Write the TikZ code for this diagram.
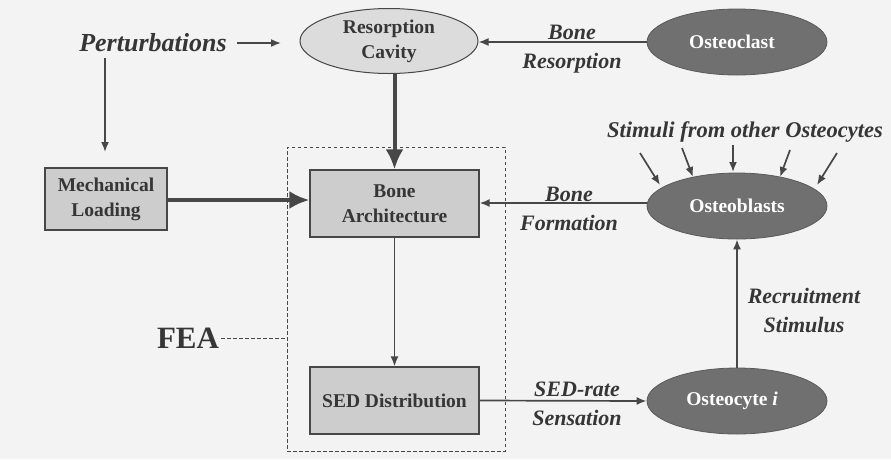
\documentclass[tikz,border=0pt]{standalone}
\usepackage{fontspec}
\setmainfont{Liberation Serif}
\usetikzlibrary{arrows.meta,shapes.geometric}
\definecolor{bg}{HTML}{F3F3F3}
\definecolor{boxfill}{HTML}{CDCDCD}
\definecolor{darkell}{HTML}{707070}
\definecolor{ellline}{HTML}{5A5A5A}
\definecolor{lightell}{HTML}{DCDCDC}
\definecolor{ink}{HTML}{363636}
\definecolor{linec}{HTML}{474747}
\begin{document}
\begin{tikzpicture}[x=1pt,y=-1pt,
  nodefont/.style={font=\fontsize{19.5}{25}\selectfont\bfseries},
  lblfont/.style={font=\fontsize{22}{29}\selectfont\bfseries\itshape},
  box/.style={rectangle, draw=linec, line width=1.2pt, fill=boxfill, inner sep=0pt, text=ink, align=center, nodefont},
  dell/.style={ellipse, draw=ellline, line width=0.8pt, fill=darkell, inner sep=0pt, text=white, align=center, nodefont, minimum width=180pt, minimum height=66pt},
  lell/.style={ellipse, draw=linec, line width=1pt, fill=lightell, inner sep=0pt, text=ink, align=center, nodefont, minimum width=178pt, minimum height=65pt},
  lbl/.style={text=ink, align=center, inner sep=0pt, lblfont},
  thinarrow/.style={draw=linec, line width=1.7pt, -{Latex[length=10pt,width=8pt]}},
  thickarrow/.style={draw=linec, line width=4pt, -{Latex[length=20pt,width=18pt]}},
  frame/.style={draw=linec, line width=1pt, dash pattern=on 3.5pt off 2.5pt}
]
\useasboundingbox (0,0) rectangle (891,459);
\fill[bg] (0,0) rectangle (891,459);

% nodes
\node[lell] (rc) at (389,41) {Resorption\\Cavity};
\node[dell] (ocl) at (737,42) {\hspace*{-10pt}Osteoclast};
\node[dell] (obl) at (737,206) {Osteoblasts};
\node[dell] (ocy) at (737,401) {\hspace*{-10pt}Osteocyte \textit{i}};
\node[box, minimum width=122pt, minimum height=62pt] (mech) at (106,199) {Mechanical\\Loading};
\node[box, minimum width=169pt, minimum height=67pt] (ba) at (394.5,203.5) {Bone\\Architecture};
\node[box, minimum width=169pt, minimum height=67pt] (sed) at (394.5,400.5) {SED Distribution};
\node[frame, minimum width=218pt, minimum height=304pt, inner sep=0pt] (fr) at (396,299) {};

% labels
\node[lbl, font=\fontsize{26}{30}\selectfont\bfseries\itshape] (pert) at (153,43) {Perturbations};
\node[text=ink, inner sep=0pt, font=\fontsize{31}{34}\selectfont\bfseries] (fea) at (188,338) {FEA};
\node[lbl] (lbr) at (572,49) {Bone\\Resorption};
\node[lbl] (lbf) at (569,209) {Bone\\Formation};
\node[lbl] (lsed) at (577,404) {SED-rate\\Sensation};
\node[lbl] (lrec) at (804,310) {Recruitment\\Stimulus};
\node[lbl, font=\fontsize{22.5}{26}\selectfont\bfseries\itshape] (lstim) at (745,132) {Stimuli from other Osteocytes};

% coordinates
\coordinate (pa1) at (237,43);
\coordinate (pa2) at (281,43);
\coordinate (pd1) at (105,58);
\coordinate (pd2) at (105,152);
\coordinate (s1a) at (640,153); \coordinate (s1b) at (660,185);
\coordinate (s2a) at (682,148); \coordinate (s2b) at (693,177);
\coordinate (s3a) at (733,145); \coordinate (s3b) at (733,172);
\coordinate (s4a) at (790,150); \coordinate (s4b) at (780,177);
\coordinate (s5a) at (837,153); \coordinate (s5b) at (817,185);

% connectors
\draw[thinarrow] (pa1) -- (pa2);
\draw[thinarrow] (pd1) -- (pd2);
\draw[thickarrow] (rc.south -| ba.north) -- (ba.north);
\draw[thickarrow] (mech.east) ++(0,1) -- ([yshift=-1pt]mech.east -| ba.west);
\draw[thinarrow] (ocl.west) -- (ocl.west -| rc.east);
\draw[thinarrow] (obl.west) ++(0,-3) -- ([yshift=3pt]obl.west -| ba.east);
\draw[thinarrow] (ba.south) -- (sed.north);
\draw[thinarrow] (sed.east) -- (ocy.west);
\draw[thinarrow] (ocy.north) -- (obl.south);
\draw[frame] (fea.east) ++(2,0) -- (fea.east -| fr.west);
\foreach \i in {1,...,5} {\draw[thinarrow] (s\i a) -- (s\i b);}
\end{tikzpicture}
\end{document}
